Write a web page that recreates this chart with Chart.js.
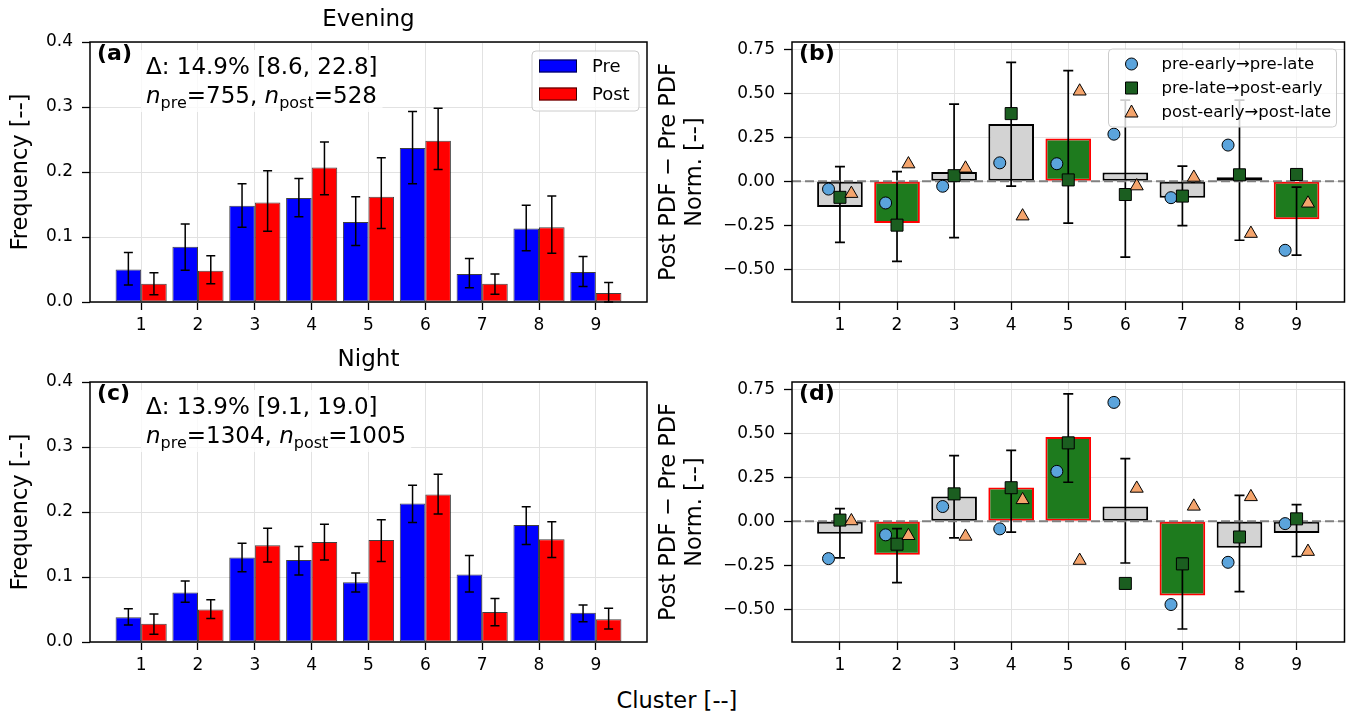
<!DOCTYPE html>
<html><head><meta charset="utf-8">
<script src="https://cdn.jsdelivr.net/npm/chart.js@4.4.1/dist/chart.umd.min.js"></script>
<style>
html,body{margin:0;padding:0;background:#fff;}
#wrap{position:relative;width:1354px;height:713px;overflow:hidden;background:#fff;}
#wrap canvas{position:absolute;}
#xlab{position:absolute;left:0;width:1354px;top:685px;height:30px;line-height:30px;text-align:center;font-family:"DejaVu Sans";font-size:22.5px;color:#000;}
</style></head>
<body><div id="wrap"><div id="xlab">Cluster [--]</div></div>
<script>
// ---------------- data ----------------
const clusters = [1,2,3,4,5,6,7,8,9];
const freqTicks = [0, 0.1, 0.2, 0.3, 0.4];
const diffTicks = [-0.5, -0.25, 0, 0.25, 0.5, 0.75];
const seriesNames = ['Pre', 'Post'];
const transNames = ['pre-early\u2192pre-late', 'pre-late\u2192post-early', 'post-early\u2192post-late'];
const panelTitles = ['Evening', 'Night'];
const panelLetters = ['(a)', '(b)', '(c)', '(d)'];
const yLabelFreq = 'Frequency [--]';
const yLabelDiff = ['Post PDF \u2212 Pre PDF', 'Norm. [--]'];

// Evening frequencies
const evePre     = [0.050, 0.085, 0.148, 0.160, 0.123, 0.237, 0.043, 0.113, 0.046];
const evePreLo   = [0.026, 0.049, 0.115, 0.131, 0.087, 0.182, 0.022, 0.079, 0.024];
const evePreHi   = [0.076, 0.120, 0.182, 0.190, 0.162, 0.293, 0.067, 0.149, 0.070];
const evePost    = [0.028, 0.048, 0.153, 0.207, 0.162, 0.248, 0.028, 0.115, 0.014];
const evePostLo  = [0.011, 0.028, 0.109, 0.165, 0.113, 0.204, 0.012, 0.075, 0.000];
const evePostHi  = [0.045, 0.071, 0.202, 0.246, 0.222, 0.298, 0.043, 0.163, 0.030];
const eveDelta   = '\u0394: 14.9% [8.6, 22.8]';
const eveN       = [755, 528];

// Night frequencies
const nigPre     = [0.038, 0.076, 0.130, 0.126, 0.092, 0.213, 0.104, 0.180, 0.045];
const nigPreLo   = [0.026, 0.061, 0.108, 0.103, 0.077, 0.184, 0.077, 0.150, 0.031];
const nigPreHi   = [0.051, 0.094, 0.152, 0.147, 0.106, 0.241, 0.133, 0.208, 0.057];
const nigPost    = [0.028, 0.050, 0.149, 0.154, 0.157, 0.227, 0.046, 0.158, 0.035];
const nigPostLo  = [0.012, 0.036, 0.123, 0.126, 0.124, 0.197, 0.025, 0.130, 0.020];
const nigPostHi  = [0.043, 0.065, 0.175, 0.181, 0.188, 0.258, 0.067, 0.185, 0.052];
const nigDelta   = '\u0394: 13.9% [9.1, 19.0]';
const nigN       = [1304, 1005];

// Evening normalized difference
const eveDiff    = [-0.146, -0.237, 0.053, 0.326, 0.244, 0.050, -0.094, 0.023, -0.216];
const eveDiffLo  = [-0.347, -0.455, -0.320, -0.027, -0.238, -0.431, -0.252, -0.335, -0.420];
const eveDiffHi  = [0.083, 0.055, 0.439, 0.676, 0.629, 0.462, 0.086, 0.462, -0.033];
const eveSig     = [false, true, false, false, true, false, false, false, true];
const eveT1      = [-0.044, -0.123, -0.028, 0.105, 0.100, 0.268, -0.093, 0.206, -0.392];
const eveT2      = [-0.091, -0.249, 0.032, 0.385, 0.008, -0.075, -0.084, 0.037, 0.039];
const eveT3      = [-0.070, 0.098, 0.074, -0.198, 0.512, -0.027, 0.022, -0.297, -0.125];

// Night normalized difference
const nigDiff    = [-0.070, -0.190, 0.141, 0.192, 0.480, 0.084, -0.422, -0.150, -0.067];
const nigDiffLo  = [-0.208, -0.348, -0.094, -0.061, 0.222, -0.237, -0.211, -0.400, -0.200];
const nigDiffHi  = [0.072, -0.041, 0.374, 0.403, 0.725, 0.356, -0.612, 0.148, 0.095];
const nigSig     = [false, true, false, true, true, false, true, false, false];
const nigT1      = [-0.212, -0.077, 0.084, -0.043, 0.284, 0.676, -0.473, -0.233, -0.013];
const nigT2      = [0.007, -0.130, 0.156, 0.191, 0.446, -0.353, -0.242, -0.089, 0.014];
const nigT3      = [0.002, -0.082, -0.086, 0.122, -0.223, 0.187, 0.085, 0.139, -0.172];

// ---------------- style ----------------
const FONT = "'DejaVu Sans', sans-serif";
Chart.defaults.font.family = FONT;
Chart.defaults.color = '#000';
const GRID = '#e2e2e2';
const C_PRE = '#0000ff', C_POST = '#ff0000';
const C_SIG = '#1e7b1e', C_NS = '#d3d3d3';
const C_CIRC = '#5ba4dc', C_SQ = '#1b5e20', C_TRI = '#f4a46c';
const wrap = document.getElementById('wrap');

function makeCanvas(left, top, w, h) {
  const c = document.createElement('canvas');
  c.width = w; c.height = h;
  c.style.left = left + 'px'; c.style.top = top + 'px';
  c.style.width = w + 'px'; c.style.height = h + 'px';
  wrap.appendChild(c);
  return c;
}

function xScale(min, max, xH) {
  return {
    type: 'linear', min: min, max: max, offset: false,
    afterBuildTicks: s => { s.ticks = clusters.map(v => ({value: v})); },
    afterFit: s => { s.height = xH; },
    grid: {color: GRID, lineWidth: 1, offset: false, drawTicks: true, tickLength: 8, tickColor: '#000', tickWidth: 1.3},
    border: {display: false},
    ticks: {font: {size: 17}, color: '#000', padding: 5, maxRotation: 0, autoSkip: false, callback: v => String(v)}
  };
}
function yScale(min, max, tickVals, fmt, yW, title, titlePad) {
  return {
    type: 'linear', min: min, max: max,
    afterBuildTicks: s => { s.ticks = tickVals.map(v => ({value: v})); },
    afterFit: s => { s.width = yW; },
    grid: {color: GRID, lineWidth: 1, drawTicks: true, tickLength: 8, tickColor: '#000', tickWidth: 1.3},
    border: {display: false},
    ticks: {font: {size: 17}, color: '#000', padding: 9, autoSkip: false, callback: fmt},
    title: {display: true, text: title, font: {size: 22.5, lineHeight: 1.16}, color: '#000', padding: {top: titlePad, bottom: 0}}
  };
}
const fmtFreq = v => v.toFixed(1);
const fmtDiff = v => (v < 0 ? '\u2212' : '') + Math.abs(v).toFixed(2);

function drawErr(chart, dsIndex, lo, hi, cap, lw) {
  const meta = chart.getDatasetMeta(dsIndex);
  const ys = chart.scales.y, ctx = chart.ctx;
  ctx.save();
  ctx.strokeStyle = '#000'; ctx.lineWidth = lw; ctx.lineCap = 'butt';
  meta.data.forEach((el, i) => {
    const x = el.x, y1 = ys.getPixelForValue(lo[i]), y2 = ys.getPixelForValue(hi[i]);
    ctx.beginPath();
    ctx.moveTo(x, y1); ctx.lineTo(x, y2);
    ctx.moveTo(x - cap, y1); ctx.lineTo(x + cap, y1);
    ctx.moveTo(x - cap, y2); ctx.lineTo(x + cap, y2);
    ctx.stroke();
  });
  ctx.restore();
}
function drawFrame(chart) {
  const a = chart.chartArea, ctx = chart.ctx;
  ctx.save(); ctx.strokeStyle = '#000'; ctx.lineWidth = 1.5;
  ctx.strokeRect(a.left, a.top, a.right - a.left, a.bottom - a.top);
  ctx.restore();
}
function drawLetter(chart, txt) {
  const a = chart.chartArea, ctx = chart.ctx;
  ctx.save(); ctx.font = 'bold 22px ' + FONT; ctx.fillStyle = '#000';
  ctx.textBaseline = 'alphabetic'; ctx.textAlign = 'left';
  ctx.fillText(txt, a.left + 7, a.top + 18);
  ctx.restore();
}
function drawTitle(chart, txt) {
  const a = chart.chartArea, ctx = chart.ctx;
  ctx.save(); ctx.font = '23px ' + FONT; ctx.fillStyle = '#000';
  ctx.textBaseline = 'middle'; ctx.textAlign = 'center';
  ctx.fillText(txt, (a.left + a.right) / 2, 20);
  ctx.restore();
}
function roundRect(ctx, x, y, w, h, r) {
  ctx.beginPath();
  ctx.moveTo(x + r, y); ctx.lineTo(x + w - r, y); ctx.arcTo(x + w, y, x + w, y + r, r);
  ctx.lineTo(x + w, y + h - r); ctx.arcTo(x + w, y + h, x + w - r, y + h, r);
  ctx.lineTo(x + r, y + h); ctx.arcTo(x, y + h, x, y + h - r, r);
  ctx.lineTo(x, y + r); ctx.arcTo(x, y, x + r, y, r); ctx.closePath();
}
function drawAnnot(chart, deltaTxt, n) {
  const a = chart.chartArea, ctx = chart.ctx;
  const x0 = a.left + 56, y1 = a.top + 32, y2 = a.top + 61, size = 23;
  const main = size + 'px ' + FONT, ital = 'italic ' + main, sub = Math.round(size * 0.7) + 'px ' + FONT;
  const parts = [['n', ital, 0], ['pre', sub, 5], ['=' + n[0] + ', ', main, 0], ['n', ital, 0], ['post', sub, 5], ['=' + n[1], main, 0]];
  ctx.save();
  ctx.font = main;
  let w1 = ctx.measureText(deltaTxt).width, w2 = 0;
  parts.forEach(p => { ctx.font = p[1]; w2 += ctx.measureText(p[0]).width; });
  const bw = Math.max(w1, w2);
  ctx.fillStyle = 'rgba(255,255,255,0.8)';
  ctx.fillRect(x0 - 5, a.top + 8, bw + 10, 62);
  ctx.fillStyle = '#000'; ctx.textBaseline = 'alphabetic'; ctx.textAlign = 'left';
  ctx.font = main; ctx.fillText(deltaTxt, x0, y1);
  let cx = x0;
  parts.forEach(p => { ctx.font = p[1]; ctx.fillText(p[0], cx, y2 + p[2]); cx += ctx.measureText(p[0]).width; });
  ctx.restore();
}
function drawLegendA(chart) {
  const a = chart.chartArea, ctx = chart.ctx;
  const bx = a.right - 115, by = a.top + 9, bw = 107, bh = 60;
  ctx.save();
  roundRect(ctx, bx, by, bw, bh, 4);
  ctx.fillStyle = 'rgba(255,255,255,0.8)'; ctx.fill();
  ctx.strokeStyle = '#cccccc'; ctx.lineWidth = 1; ctx.stroke();
  const cols = [C_PRE, C_POST];
  ctx.font = '18px ' + FONT; ctx.textBaseline = 'middle'; ctx.textAlign = 'left';
  cols.forEach((c, i) => {
    const cy = by + 15 + i * 28;
    ctx.fillStyle = c; ctx.fillRect(bx + 7, cy - 6.5, 38, 13);
    ctx.strokeStyle = 'rgba(0,0,0,0.75)'; ctx.lineWidth = 1; ctx.strokeRect(bx + 7.5, cy - 6, 37, 12);
    ctx.fillStyle = '#000'; ctx.fillText(seriesNames[i], bx + 60, cy + 1);
  });
  ctx.restore();
}
function marker(ctx, style, x, y, fill) {
  ctx.beginPath();
  if (style === 'circle') ctx.arc(x, y, 6, 0, Math.PI * 2);
  else if (style === 'rect') ctx.rect(x - 6, y - 6, 12, 12);
  else { ctx.moveTo(x, y - 7); ctx.lineTo(x + 6.5, y + 5); ctx.lineTo(x - 6.5, y + 5); ctx.closePath(); }
  ctx.fillStyle = fill; ctx.fill();
  ctx.strokeStyle = '#000'; ctx.lineWidth = 1; ctx.stroke();
}
function drawLegendB(chart) {
  const a = chart.chartArea, ctx = chart.ctx;
  const bx = a.right - 236, by = a.top + 7, bw = 228, bh = 78;
  ctx.save();
  roundRect(ctx, bx, by, bw, bh, 4);
  ctx.fillStyle = 'rgba(255,255,255,0.8)'; ctx.fill();
  ctx.strokeStyle = '#cccccc'; ctx.lineWidth = 1; ctx.stroke();
  const st = [['circle', C_CIRC], ['rect', C_SQ], ['triangle', C_TRI]];
  ctx.font = '16.5px ' + FONT; ctx.textBaseline = 'middle'; ctx.textAlign = 'left';
  st.forEach((s, i) => {
    const cy = by + 15 + i * 24;
    marker(ctx, s[0], bx + 23, cy, s[1]);
    ctx.fillStyle = '#000'; ctx.fillText(transNames[i], bx + 53, cy + 1);
  });
  ctx.restore();
}

// ---------------- frequency panels ----------------
function freqChart(canvas, pre, preLo, preHi, post, postLo, postHi, title, letter, delta, n, showLegend, xH) {
  return new Chart(canvas, {
    type: 'bar',
    data: {
      datasets: [
        {label: seriesNames[0], data: clusters.map((c, i) => ({x: c, y: pre[i]})), backgroundColor: C_PRE,
         borderColor: 'rgba(0,0,0,0.75)', borderWidth: 1, borderSkipped: false, categoryPercentage: 0.9, barPercentage: 1},
        {label: seriesNames[1], data: clusters.map((c, i) => ({x: c, y: post[i]})), backgroundColor: C_POST,
         borderColor: 'rgba(0,0,0,0.75)', borderWidth: 1, borderSkipped: false, categoryPercentage: 0.9, barPercentage: 1}
      ]
    },
    options: {
      responsive: false, animation: false, events: [],
      layout: {padding: {top: 42, right: 13, left: 0, bottom: 0}},
      scales: {
        x: xScale(0.1, 9.9, xH),
        y: yScale(0, 0.4, freqTicks, fmtFreq, 90, yLabelFreq, 8)
      },
      plugins: {legend: {display: false}, tooltip: {enabled: false}, title: {display: false}}
    },
    plugins: [{
      id: 'decoFreq',
      afterDatasetsDraw(chart) {
        drawErr(chart, 0, preLo, preHi, 4.5, 1.5);
        drawErr(chart, 1, postLo, postHi, 4.5, 1.5);
      },
      afterDraw(chart) {
        drawFrame(chart);
        drawAnnot(chart, delta, n);
        if (showLegend) drawLegendA(chart);
        drawLetter(chart, letter);
        drawTitle(chart, title);
      }
    }]
  });
}

// ---------------- difference panels ----------------
function diffChart(canvas, diff, lo, hi, sig, t1, t2, t3, letter, showLegend, xH) {
  return new Chart(canvas, {
    type: 'bar',
    data: {
      datasets: [
        {label: 'diff', data: clusters.map((c, i) => ({x: c, y: diff[i]})),
         backgroundColor: sig.map(s => s ? C_SIG : C_NS), borderColor: sig.map(s => s ? '#ff0000' : '#000'),
         borderWidth: 2, borderSkipped: false, categoryPercentage: 0.8, barPercentage: 1, order: 10},
        {type: 'scatter', label: transNames[0], data: clusters.map((c, i) => ({x: c - 0.2, y: t1[i]})),
         pointStyle: 'circle', pointRadius: 6, pointBackgroundColor: C_CIRC, pointBorderColor: '#000', pointBorderWidth: 1, order: 3},
        {type: 'scatter', label: transNames[1], data: clusters.map((c, i) => ({x: c, y: t2[i]})),
         pointStyle: 'rect', pointRadius: 8.5, pointBackgroundColor: C_SQ, pointBorderColor: '#000', pointBorderWidth: 1, order: 2},
        {type: 'scatter', label: transNames[2], data: clusters.map((c, i) => ({x: c + 0.2, y: t3[i]})),
         pointStyle: 'triangle', pointRadius: 7.5, pointBackgroundColor: C_TRI, pointBorderColor: '#000', pointBorderWidth: 1, order: 1}
      ]
    },
    options: {
      responsive: false, animation: false, events: [],
      layout: {padding: {top: 42, right: 5, left: 0, bottom: 0}},
      scales: {
        x: xScale(0.16, 9.84, xH),
        y: yScale(-0.686, 0.792, diffTicks, fmtDiff, 136, yLabelDiff, 0)
      },
      plugins: {legend: {display: false}, tooltip: {enabled: false}, title: {display: false}}
    },
    plugins: [{
      id: 'decoDiff',
      afterDatasetDraw(chart, args) {
        if (args.index !== 0) return;
        drawErr(chart, 0, lo, hi, 5, 1.7);
        const a = chart.chartArea, ctx = chart.ctx, y0 = chart.scales.y.getPixelForValue(0);
        ctx.save(); ctx.strokeStyle = '#808080'; ctx.lineWidth = 2; ctx.setLineDash([9, 4]);
        ctx.beginPath(); ctx.moveTo(a.left, y0); ctx.lineTo(a.right, y0); ctx.stroke();
        ctx.restore();
      },
      afterDraw(chart) {
        drawFrame(chart);
        if (showLegend) drawLegendB(chart);
        drawLetter(chart, letter);
      }
    }]
  });
}

freqChart(makeCanvas(0, 0, 660, 340), evePre, evePreLo, evePreHi, evePost, evePostLo, evePostHi,
          panelTitles[0], panelLetters[0], eveDelta, eveN, true, 38);
diffChart(makeCanvas(656, 0, 698, 340), eveDiff, eveDiffLo, eveDiffHi, eveSig, eveT1, eveT2, eveT3,
          panelLetters[1], true, 38);
freqChart(makeCanvas(0, 340, 660, 373), nigPre, nigPreLo, nigPreHi, nigPost, nigPostLo, nigPostHi,
          panelTitles[1], panelLetters[2], nigDelta, nigN, false, 71);
diffChart(makeCanvas(656, 340, 698, 373), nigDiff, nigDiffLo, nigDiffHi, nigSig, nigT1, nigT2, nigT3,
          panelLetters[3], false, 71);
</script>
</body></html>
